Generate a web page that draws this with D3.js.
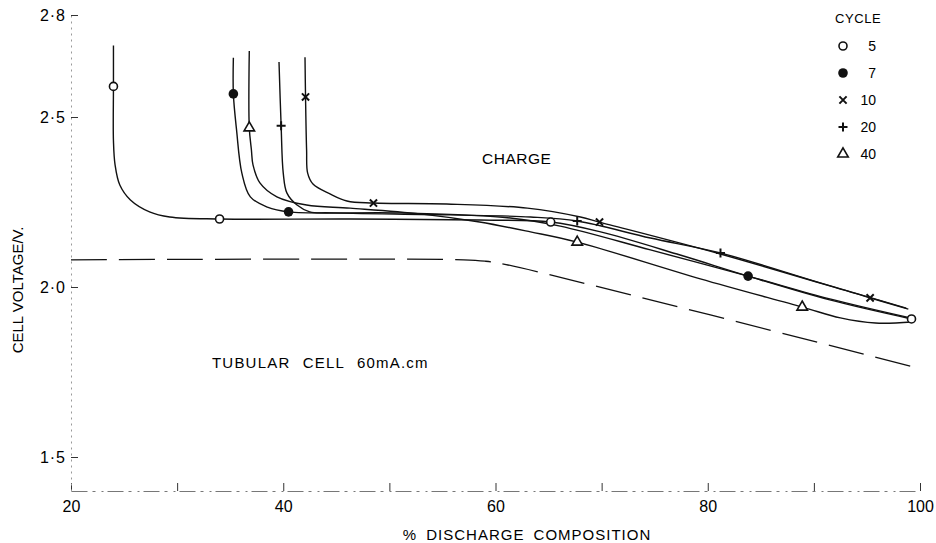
<!DOCTYPE html>
<html><head><meta charset="utf-8">
<script src="https://cdn.jsdelivr.net/npm/d3@7"></script>
<style>body{margin:0;background:#fff}svg{display:block}</style>
</head><body><svg id="c" width="936" height="543"></svg>
<script>
// ---- data ----
const cycles = [5, 7, 10, 20, 40];
const legendLabels = ["5", "7", "10", "20", "40"];

const c5X = [24.0, 24.0, 24.0, 24.15, 24.6, 25.6, 27.4, 29.3, 34.0, 46.3, 58.5, 65.2, 69.9, 77.4, 83.8, 91.5, 99.2];
const c5Y = [2.71, 2.59, 2.43, 2.36, 2.30, 2.256, 2.221, 2.206, 2.200, 2.200, 2.197, 2.191, 2.162, 2.094, 2.032, 1.962, 1.906];
const m5X = [24.0, 34.0, 65.2, 99.2];
const m5Y = [2.59, 2.200, 2.191, 1.906];

const c7X = [35.3, 35.3, 35.6, 36.1, 36.9, 38.5, 40.5, 51.0, 61.4, 66.1, 74.6, 83.8, 91.5, 99.1];
const c7Y = [2.674, 2.568, 2.462, 2.335, 2.265, 2.235, 2.221, 2.218, 2.203, 2.179, 2.109, 2.032, 1.965, 1.909];
const m7X = [35.3, 40.5, 83.8];
const m7Y = [2.568, 2.221, 2.032];

const c10X = [42.05, 42.1, 42.2, 42.3, 42.8, 44.4, 46.0, 48.5, 55.4, 63.0, 68.0, 69.8, 81.2, 95.3, 98.9];
const c10Y = [2.676, 2.559, 2.403, 2.335, 2.303, 2.274, 2.253, 2.247, 2.244, 2.232, 2.206, 2.191, 2.097, 1.968, 1.935];
const m10X = [42.1, 48.5, 69.8, 95.3];
const m10Y = [2.559, 2.247, 2.191, 1.968];

const c20X = [39.6, 39.8, 40.0, 40.35, 41.3, 42.5, 44.4, 55.7, 63.3, 67.7, 74.6, 81.2, 90.6, 98.7];
const c20Y = [2.662, 2.474, 2.335, 2.276, 2.241, 2.221, 2.218, 2.212, 2.206, 2.194, 2.144, 2.100, 2.012, 1.938];
const m20X = [39.8, 67.7, 81.2];
const m20Y = [2.474, 2.194, 2.100];

const c40X = [36.8, 36.8, 37.0, 37.15, 37.8, 39.4, 42.2, 46.3, 52.9, 58.5, 63.3, 67.7, 79.3, 88.9, 92.5, 95.8, 99.2];
const c40Y = [2.694, 2.468, 2.403, 2.359, 2.306, 2.265, 2.241, 2.232, 2.215, 2.191, 2.162, 2.132, 2.024, 1.941, 1.909, 1.894, 1.897];
const m40X = [36.8, 67.7, 88.9];
const m40Y = [2.468, 2.132, 1.941];

// dashed (discharge) line
const dashX = [20, 57, 59, 61, 100];
const dashY = [2.08, 2.08, 2.076, 2.066, 1.76];

const xTicks = [20, 30, 40, 50, 60, 70, 80, 90, 100];
const xLabelTicks = [20, 40, 60, 80, 100];
const yTicks = [2.8, 2.5, 2.0, 1.5];
const yTickLabels = ["2·8", "2·5", "2·0", "1·5"];

// ---- chart ----
const series = [
  {cycle: 5,  sym: "open",   cx: c5X,  cy: c5Y,  mx: m5X,  my: m5Y},
  {cycle: 7,  sym: "filled", cx: c7X,  cy: c7Y,  mx: m7X,  my: m7Y},
  {cycle: 10, sym: "cross",  cx: c10X, cy: c10Y, mx: m10X, my: m10Y},
  {cycle: 20, sym: "plus",   cx: c20X, cy: c20Y, mx: m20X, my: m20Y},
  {cycle: 40, sym: "tri",    cx: c40X, cy: c40Y, mx: m40X, my: m40Y}
];

const svg = d3.select("#c");
const FONT = "'Liberation Sans', Arial, sans-serif";
const x = d3.scaleLinear().domain([20, 100]).range([71, 920]);
const y = d3.scaleLinear().domain([1.4, 2.8]).range([491, 15]);

// axes
const xAxis = d3.axisBottom(x).tickValues(xTicks).tickSizeInner(-8).tickSizeOuter(0).tickPadding(10)
  .tickFormat(d => xLabelTicks.includes(d) ? String(d) : "");
const gx = svg.append("g").attr("transform", `translate(0,${y(1.4)})`).call(xAxis);
gx.select(".domain").attr("stroke", "#777").attr("stroke-dasharray", "16,5,3,6,2,4");
gx.selectAll(".tick line").attr("stroke", "#333");
gx.selectAll(".tick text").attr("font-family", FONT).attr("font-size", 16).attr("fill", "#000");

const yAxis = d3.axisLeft(y).tickValues(yTicks).tickSizeInner(-7).tickSizeOuter(0).tickPadding(5)
  .tickFormat((d, i) => yTickLabels[i]);
const gy = svg.append("g").attr("transform", `translate(${x(20)},0)`).call(yAxis);
gy.select(".domain").attr("stroke", "#999").attr("stroke-dasharray", "2,4");
gy.selectAll(".tick line").attr("stroke", "#333");
gy.selectAll(".tick text").attr("font-family", FONT).attr("font-size", 16).attr("fill", "#000")
  .attr("letter-spacing", 1);

// dashed line
const lineLin = d3.line().x(d => x(d[0])).y(d => y(d[1])).curve(d3.curveCatmullRom.alpha(0.5));
svg.append("path")
  .attr("d", lineLin(dashX.map((v, i) => [v, dashY[i]])))
  .attr("fill", "none").attr("stroke", "#111").attr("stroke-width", 1.3)
  .attr("stroke-dasharray", "36,12");

// curves
series.forEach(s => {
  svg.append("path")
    .attr("d", lineLin(s.cx.map((v, i) => [v, s.cy[i]])))
    .attr("fill", "none").attr("stroke", "#111").attr("stroke-width", 1.4);
});

// markers
function drawMarker(g, sym, px, py) {
  if (sym === "open") {
    g.append("circle").attr("cx", px).attr("cy", py).attr("r", 4)
      .attr("fill", "#fff").attr("stroke", "#111").attr("stroke-width", 1.6);
  } else if (sym === "filled") {
    g.append("circle").attr("cx", px).attr("cy", py).attr("r", 4.8).attr("fill", "#111");
  } else if (sym === "cross") {
    const r = 3.6;
    g.append("path").attr("d", `M${px - r},${py - r}L${px + r},${py + r}M${px - r},${py + r}L${px + r},${py - r}`)
      .attr("stroke", "#111").attr("stroke-width", 2);
  } else if (sym === "plus") {
    const r = 4.5;
    g.append("path").attr("d", `M${px - r},${py}L${px + r},${py}M${px},${py - r}L${px},${py + r}`)
      .attr("stroke", "#111").attr("stroke-width", 2);
  } else if (sym === "tri") {
    g.append("path").attr("transform", `translate(${px},${py})`)
      .attr("d", d3.symbol().type(d3.symbolTriangle).size(48)())
      .attr("fill", "#fff").attr("stroke", "#111").attr("stroke-width", 1.6);
  }
}
const gm = svg.append("g");
series.forEach(s => {
  s.mx.forEach((v, i) => drawMarker(gm, s.sym, x(v), y(s.my[i])));
});

// legend
const lg = svg.append("g");
lg.append("text").attr("x", 835).attr("y", 23).text("CYCLE")
  .attr("font-family", FONT).attr("font-size", 13).attr("letter-spacing", 0.6).attr("fill", "#000");
const rowY = d3.scalePoint().domain(cycles).range([46, 154]);
series.forEach((s, i) => {
  drawMarker(lg, s.sym, 843, rowY(s.cycle));
  lg.append("text").attr("x", 876).attr("y", rowY(s.cycle) + 5).attr("text-anchor", "end")
    .text(legendLabels[i]).attr("font-family", FONT).attr("font-size", 14).attr("fill", "#000");
});

// annotations
svg.append("text").attr("x", 482).attr("y", 164).text("CHARGE")
  .attr("font-family", FONT).attr("font-size", 15.5).attr("letter-spacing", 0.5).attr("fill", "#000");
svg.append("text").attr("x", 212).attr("y", 368).text("TUBULAR CELL 60mA.cm")
  .attr("font-family", FONT).attr("font-size", 15).attr("letter-spacing", 1.2).attr("word-spacing", 7).attr("fill", "#000");

// axis titles
svg.append("text").attr("x", 527).attr("y", 540).attr("text-anchor", "middle").text("% DISCHARGE COMPOSITION")
  .attr("font-family", FONT).attr("font-size", 15).attr("letter-spacing", 1).attr("word-spacing", 4).attr("fill", "#000");
svg.append("text").attr("transform", "translate(23,290) rotate(-90)").attr("text-anchor", "middle")
  .text("CELL VOLTAGE/V.").attr("font-family", FONT).attr("font-size", 15).attr("fill", "#000");
</script>
</body></html>
